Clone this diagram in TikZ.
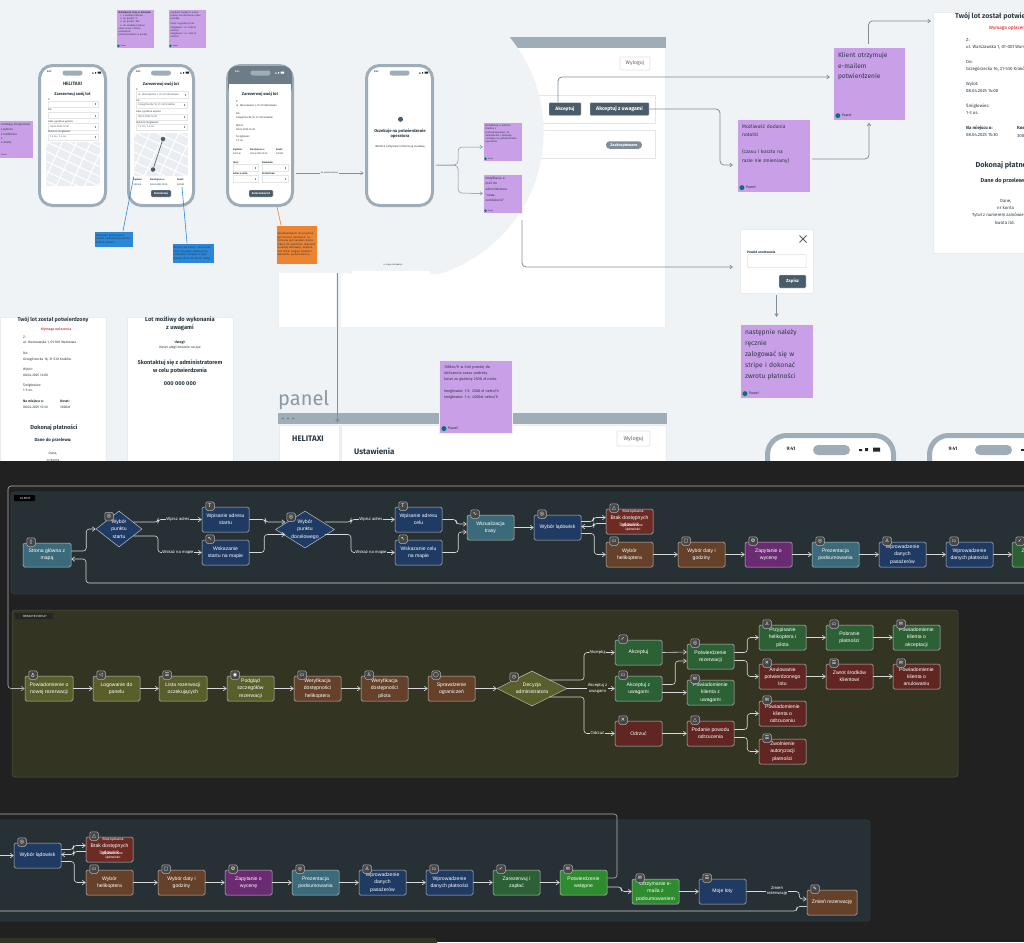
\documentclass[tikz,border=0pt]{standalone}
\usepackage{fontspec}
\setmainfont{Fira Sans}
\newfontfamily\flowf{Liberation Sans}
\newfontfamily\symf{DejaVu Sans}
\usetikzlibrary{arrows.meta,shapes.geometric,calc}
\definecolor{topbg}{HTML}{F0F3F6}
\definecolor{mapbg}{HTML}{EAEDF2}
\definecolor{gline}{HTML}{7E8E9B}
\definecolor{pgray}{HTML}{9FADB9}
\definecolor{btn}{HTML}{4A5B69}
\definecolor{stick}{HTML}{C99FE7}
\definecolor{nblue}{HTML}{2C87D9}
\definecolor{norange}{HTML}{ED8431}
\definecolor{ink}{HTML}{2B3A45}
\definecolor{darkbg}{HTML}{212121}
\definecolor{lanea}{HTML}{273135}
\definecolor{laneb}{HTML}{333522}
\definecolor{cteal}{HTML}{3B6A7A}
\definecolor{cnavy}{HTML}{1F3A63}
\definecolor{cbrown}{HTML}{65412A}
\definecolor{cred}{HTML}{6E2B24}
\definecolor{cred2}{HTML}{612622}
\definecolor{cpurple}{HTML}{6A2B72}
\definecolor{cgreen}{HTML}{2C6135}
\definecolor{cbright}{HTML}{2F8B2F}
\definecolor{colive}{HTML}{595E2B}
\newcounter{tn}
\newcommand\sz[1]{\pgfmathsetmacro\lsk{#1*1.3}\fontsize{#1}{\lsk}\selectfont}
\def\sr{1.55}
\newcommand\szs[1]{\pgfmathsetmacro\lsk{#1*\sr}\fontsize{#1}{\lsk}\selectfont\hyphenpenalty=10000 }
\newcommand\flowsz{\fontsize{5.1}{7.2}\selectfont}
% text helpers: x y size options text
\newcommand\Tl[5]{\stepcounter{tn}\node[anchor=west,inner sep=0,align=left,text=ink,font=\sz{#3},#4] (t\thetn) at ({#1},{#2}) {#5};}
\newcommand\Tc[5]{\stepcounter{tn}\node[anchor=center,inner sep=0,align=center,text=ink,font=\sz{#3},#4] (t\thetn) at ({#1},{#2}) {#5};}
\tikzset{
  phoneshape/.style={draw=pgray,line width=3pt,fill=white,rounded corners=13pt,inner sep=0},
  glink/.style={draw=gline,line width=.8pt,rounded corners=4pt,-{Straight Barb[length=2.5pt,width=3.5pt]}},
  edge/.style={draw=black!15,line width=.6pt,rounded corners=3pt,-{Straight Barb[length=3pt,width=4.5pt]}},
  plain/.style={draw=black!30,line width=.6pt,rounded corners=3pt},
  flowbox/.style={draw=black!25,line width=.5pt,rounded corners=1.5pt,inner sep=0,align=center,text=white,font=\flowf\flowsz},
  ic/.style={draw=black!30,fill=black!72,line width=.5pt,rounded corners=1.5pt,minimum size=8.5pt,inner sep=0,text=white,font=\symf\sz{5}},
  elabel/.style={inner sep=.6pt,align=center,text=white,font=\flowf\sz{4.2}},
  dmd/.style={diamond,draw=black!25,line width=.5pt,inner sep=0},
  flat/.style={draw=black!8,line width=.6pt,fill=white,inner sep=0},
  darkbtn/.style={fill=btn,draw=black!8,line width=.4pt,inner sep=0,text=white,rounded corners=.8pt,font=\bfseries\sz{3.8}},
}
\newcommand\Bx[6]{\node[#6,minimum width={(#4-#2)*1pt},minimum height={(#5-#3)*1pt}] (#1) at ({(#2+#4)/2},{(#3+#5)/2}) {};}
\newcommand\Phone[3]{\node[phoneshape,minimum width={(#3-#2-3)*1pt},minimum height=140pt] (#1) at ({(#2+#3)/2},135.5) {};
  \Tl{#2+9}{72}{2.4}{font=\bfseries\sz{2.4}}{9:41}
  \fill[pgray,rounded corners=2.5pt] ({(#2+#3)/2-10},70.5) rectangle ({(#2+#3)/2+10},75.5);
  \fill[black!85] (#3-15,72.5) rectangle (#3-13.5,73.5) (#3-12,72) rectangle (#3-11,73.5) (#3-9.5,71.6) rectangle (#3-6,73.6);}
\newcommand\Field[5]{\fill[white] (#1,#2) rectangle (#3,#4); \draw[black!10,line width=.4pt] (#1,#2) rectangle (#3,#4);
  \Tl{#1+2}{(#2+#4)/2}{2.6}{text=ink!80}{#5}\fill[black!45] (#3-3.5,{(#2+#4)/2-1}) rectangle (#3-2.7,{(#2+#4)/2+1});}
\newcommand\MapArea[4]{\begin{scope}\clip[rounded corners=2pt] (#1,#2) rectangle (#3,#4);
  \fill[mapbg] (#1,#2) rectangle (#3,#4);
  \pgfmathsetmacro\cx{(#1+#3)/2}\pgfmathsetmacro\cy{(#2+#4)/2}
  \foreach \i in {-36,-27,...,36}{\draw[white,line width=1.1pt] ({\cx-0.42*\i-0.9*60},{\cy+0.9*\i-0.42*60}) -- ({\cx-0.42*\i+0.9*60},{\cy+0.9*\i+0.42*60});}
  \foreach \i in {-45,-32,...,45}{\draw[white,line width=1.1pt] ({\cx+0.9*\i-0.42*60},{\cy+0.42*\i+0.9*60}) -- ({\cx+0.9*\i+0.42*60},{\cy+0.42*\i-0.9*60});}
  \end{scope}}
% sticky: name x1 y1 x2 y2 size text
\newcommand\Sticky[7]{\node[fill=stick,draw=black!6,line width=.4pt,inner sep=0,minimum width={(#4-#2)*1pt},minimum height={(#5-#3)*1pt}] (#1) at ({(#2+#4)/2},{(#3+#5)/2}) {};
  \pgfmathsetmacro\pad{(#4-#2)*0.07}\pgfmathsetmacro\tw{(#4-#2)*0.88}\pgfmathsetmacro\fs{(#4-#2)*0.05}\pgfmathsetmacro\rr{(#4-#2)*0.034}
  \node[anchor=north west,inner sep=0,text width=\tw pt,align=left,text=ink,font=\szs{#6}] (#1t) at ($(#1.north west)+(\pad,\pad)$) {#7};
  \fill[black!10!teal] ($(#1.south west)+(\pad,-\pad*0.9)$) circle (\rr);
  \node[anchor=west,inner sep=0,text=ink,font=\sz{\fs}] (#1a) at ($(#1.south west)+(\pad*1.8,-\pad*0.9)$) {Paweł};}
\newcommand\Note[7]{\pgfmathsetmacro\tw{#4-#2-3}\node[fill=#6,draw=black!6,line width=.4pt,inner sep=1.5pt,minimum width={(#4-#2)*1pt},minimum height={(#5-#3)*1pt},text width=\tw pt,align=left,text=ink,font=\sz{2.7}] (#1) at ({(#2+#4)/2},{(#3+#5)/2}) {#7};}
% flow box: name x1 y1 x2 y2 colour text glyph
\newcommand\Fb[8]{\node[flowbox,fill=#6,minimum width={(#4-#2)*1pt},minimum height={(#5-#3)*1pt}] (#1) at ({(#2+#4)/2},{(#3+#5)/2}) {#7};
  \node[ic] (#1i) at ({#2+8},{#3-1}) {#8};}
\newcommand\Straight[2]{\draw[edge] (#1.east) -- (#2.west);}
\begin{document}
\begin{tikzpicture}[x=1pt,y=-1pt]
\useasboundingbox (0,0) rectangle (1024,942);
\clip (0,0) rectangle (1024,942);
\fill[topbg] (0,0) rectangle (1024,942);

%% ---------- upper canvas ----------
% operator panel behind the bubble
\node[fill=white,draw=black!6,line width=.4pt,inner sep=0,minimum width=387pt,minimum height=290pt] (panelA) at (471.5,182) {};
\fill[pgray] (278,37) rectangle (665.5,48);
\node[flat,draw=black!12,rounded corners=.8pt,minimum width=30pt,minimum height=13pt,text=black!60,font=\sz{5.2}] (wyl1) at (635,63.5) {Wyloguj};
\Bx{rowa}{290}{95}{655}{123}{draw=black!10,line width=.5pt,fill=white,inner sep=0}
\Bx{rowb}{290}{130}{655}{158}{draw=black!10,line width=.5pt,fill=white,inner sep=0}
\node[darkbtn,minimum width=32pt,minimum height=13pt,font=\bfseries\sz{4.8}] (akc) at (565,109) {Akceptuj};
\node[darkbtn,minimum width=59pt,minimum height=13pt,font=\bfseries\sz{5.2}] (akcu) at (619.5,109) {Akceptuj z uwagami};
\node[fill=gline,rounded corners=3.5pt,inner sep=0,minimum width=36pt,minimum height=7.5pt,text=white,font=\bfseries\sz{3.8}] (zaak) at (624,145) {Zaakceptowane};
% bubble in canvas colour
\begin{scope}
\clip (200,0) rectangle (600,273);
\fill[topbg] (395,132) circle (148.7);
\fill[topbg] (270,30) rectangle (395,273);
\end{scope}
\fill[topbg] (336,273) rectangle (340.6,327.5);
\fill[white] (352,271) rectangle (430,273.5);
\Tc{393}{265}{2.2}{}{6. moje rezerwacje}

% sticky notes
\def\sr{1.3}
\Sticky{s1}{116}{9}{154}{48}{2.4}{\textbf{Nakładanie trasy w kierunku:}\\\ \ 1. z siedziby helitaxi\\\ \ 2. do punktu 'Z'\\\ \ 3. do punktu 'DO'\\\ \ 4. do siedziby helitaxi\\suma czasu i kosztu podzielona\\podział przelotu w punkty}
\Sticky{s2}{168}{9}{206}{48}{2.4}{prędkość 160km/h w linii prostej do obliczenia czasu podróży.\\[2pt]Koszt za godzinę lotu:\\śmigłowiec 1-3: 2500 zł netto/h\\śmigłowiec 1-4: 4500 zł netto/h}
\node[fill=stick,draw=black!6,line width=.4pt,inner sep=0,minimum width=34pt,minimum height=38pt] (s0) at (16,139) {};
\Tl{1}{125}{2.9}{}{rzedzając kilogramowi}
\Tl{1}{130}{2.9}{}{z wyboru}
\Tl{1}{134}{2.9}{}{2 rozdzielna}
\Tl{1}{139}{2.9}{}{s}
\Tl{1}{143}{2.9}{}{4 osoby}
\Tl{1}{155}{2}{}{Paweł}

% phone 1
\Phone{p1}{38}{107}
\Tc{72.5}{84}{4.8}{font=\bfseries\sz{4.8}}{HELITAXI}
\Tc{72.5}{94}{4.1}{font=\bfseries\sz{4.1}}{Zarezerwuj swój lot}
\Tl{48}{99.5}{2.5}{}{Z:}
\Field{48}{101}{98}{107}{}
\Tl{48}{110}{2.5}{}{Do:}
\Field{48}{112.5}{98}{118.5}{}
\Tl{48}{121.5}{2.5}{}{Data i godzina wylotu:}
\Field{48}{123.5}{98}{130}{08.04.2025 14:00}
\Tl{48}{132}{2.5}{}{Wybierz śmigłowiec:}
\Field{48}{134}{98}{140}{1-3 os., 1-4 os.}
\MapArea{46}{142}{100}{186}

% phone 2
\Phone{p2}{127}{195}
\Tc{161}{84}{4.1}{font=\bfseries\sz{4.1}}{Zarezerwuj swój lot}
\Tl{136}{89.5}{2.5}{}{Z:}
\Field{136}{91}{188}{98}{ul. Warszawska 1, 01-001 Warszawa}
\Tl{136}{100.5}{2.5}{}{Do:}
\Field{136}{102}{187}{108}{Grzegórzecka 16, 31-530 Kraków}
\Tl{136}{112}{2.5}{}{Data i godzina wylotu:}
\Field{136}{114}{187}{120}{08.04.2025 14:00}
\Tl{136}{122.5}{2.5}{}{Wybierz śmigłowiec:}
\Field{136}{124}{187}{130}{1-3 os., 1-4 os.}
\MapArea{134}{133}{188}{176}
\node[circle,fill=btn,inner sep=0,minimum size=4.5pt] (pinA) at (163,139) {};
\node[circle,fill=btn,inner sep=0,minimum size=4.5pt] (pinB) at (153,169.5) {};
\draw[btn,line width=.6pt] (pinA) -- (pinB);
\Tl{133}{180}{2.4}{font=\bfseries\sz{2.4}}{Dystans}
\Tl{133.5}{184.5}{2.4}{}{200 km}
\Tl{150}{180}{2.4}{font=\bfseries\sz{2.4}}{Na miejscu o:}
\Tl{150}{184.5}{2.4}{}{08.04.2025 15:30}
\Tl{177}{180}{2.4}{font=\bfseries\sz{2.4}}{Koszt:}
\Tl{177}{184.5}{2.4}{}{3000zł}
\node[darkbtn,minimum width=20pt,minimum height=7pt,font=\bfseries\sz{2.8}] (btn2) at (161,193.5) {Zarezerwuj};

% phone 3
\Phone{p3}{226}{294}
\fill[white!20!btn,rounded corners=9pt] (228,66) rectangle (292,96);
\fill[white] (229,84) rectangle (291,100);
\Tl{235}{72}{2.4}{font=\bfseries\sz{2.4},text=white}{9:41}
\fill[pgray,rounded corners=2.5pt] (250.5,70.5) rectangle (270.5,75.5);
\fill[white] (275,72.5) rectangle (276.5,73.5) (278,72) rectangle (279,73.5) (280.5,71.6) rectangle (284,73.6);
\Tc{260}{94}{4.1}{font=\bfseries\sz{4.1}}{Zarezerwuj swój lot}
\Tl{236}{102}{2.6}{}{Z:}
\Tl{236}{106}{2.6}{}{ul. Warszawska 1, 01-001 Warszawa}
\Tl{236}{114}{2.6}{}{Do:}
\Tl{236}{118}{2.6}{}{Grzegórzecka 16, 31-530 Kraków}
\Tl{236}{126}{2.6}{}{Wylot:}
\Tl{236}{129.5}{2.6}{}{08.04.2025 14:00}
\Tl{236}{137}{2.6}{}{Śmigłowiec:}
\Tl{236}{141}{2.6}{}{1-3 os.}
\Tl{233}{150}{2.4}{font=\bfseries\sz{2.4}}{Dystans:}
\Tl{233}{154}{2.4}{}{200 km}
\Tl{250}{150}{2.4}{font=\bfseries\sz{2.4}}{Na miejscu o:}
\Tl{250}{154}{2.4}{}{08.04.2025 15:30}
\Tl{276}{150}{2.4}{font=\bfseries\sz{2.4}}{Koszt:}
\Tl{276}{154}{2.4}{}{3000zł}
\Tl{233}{162.5}{2.4}{font=\bfseries\sz{2.4}}{Imię:}
\Field{233}{164}{258}{171}{}
\Tl{262}{162.5}{2.4}{font=\bfseries\sz{2.4}}{Nazwisko:}
\Field{262}{164}{288}{171}{}
\Tl{233}{174}{2.4}{font=\bfseries\sz{2.4}}{Adres e-mail:}
\Field{233}{175.5}{258}{182}{}
\Tl{262}{174}{2.4}{font=\bfseries\sz{2.4}}{Nr telefonu:}
\Field{262}{175.5}{288}{182}{}
\node[darkbtn,minimum width=24pt,minimum height=7pt,font=\bfseries\sz{2.8}] (btn3) at (261,193.5) {Zarezerwuj lot};

% phone 4
\Phone{p4}{365}{434}
\node[circle,fill=btn,inner sep=0,minimum size=5pt] (clock) at (400.5,119.3) {};
\Tc{400}{134}{4.2}{font=\bfseries\sz{4.2}}{Oczekuje na potwierdzenie\\operatora}
\Tc{400}{146.5}{2.8}{}{Wkrótce otrzymasz informację mailową}

% stickies of the bubble
\def\sr{1.25}
\Sticky{s3}{483}{122}{522}{161}{2.55}{Notyfikacja e-mail do\\klienta, z\\podsumowaniem, że\\zamówienie i obiecuje\\oczekuje na potwierdzenie\\operatora}
\def\sr{1.75}
\Sticky{s4}{483}{174}{522}{213}{3.2}{Notyfikacja e-\\mail do\\administratora\\"nowe\\zamówienie"}

% phone links
\coordinate (p3out) at (296,173);
\coordinate (p4in) at (363.5,173);
\draw[glink,line width=.5pt] (p3out) -- (p4in);
\node[fill=topbg,inner sep=.4pt,text=ink,font=\sz{2.2}] (plbl) at (329.5,173) {do potwierdzenia};
\coordinate (p4out) at (436,165);
\coordinate (brA) at (458,147);
\coordinate (brB) at (458,193);
\draw[glink,line width=.5pt] (p4out) -| (brA) -- ([yshift=-5.5pt]s3.west);
\draw[glink,line width=.5pt] (p4out) -| (brB) -- (s4.west);

% colour notes
\Note{n1}{94}{231}{133}{247}{nblue}{Możliwość przesunięcia\\pinezki i aktualizacji adresu\\(start \& koniec)}
\Note{n2}{172}{243}{214}{263}{nblue}{Dotyczy się kwoty i czasu lotu. Czas lotu gdzie wkalkuje się helikopter i dopiero z tego punktu do A i B i do B i dalej}
\Note{n3}{276}{225}{317}{264}{norange}{Zarezerwowanie nie powinno być końcem rezerwacji: informacja jest kanałem komunikacji do operatora. Najpierw w swojej rezerwacji, dopiero nad lotem reaguje lokalnie i wskazanie podsumowania.}
\coordinate (a1) at (133.7,176.7);
\coordinate (a2) at (182,187);
\coordinate (a3) at (277,207);
\draw[nblue,line width=.6pt] (a1) -- (123,231);
\draw[nblue,line width=.6pt] (a2) -- (187,243);
\draw[norange,line width=.6pt] (a3) -- (281,225);

% right-hand stickies and dialogs
\def\sr{1.65}
\Sticky{klient}{833}{47}{905}{120}{6.6}{Klient otrzymuje\\e-mailem\\potwierdzenie}
\def\sr{1.7}
\Sticky{mozl}{737}{119}{810}{192}{5}{Możliwość dodania\\notatki\\[8.5pt](czasu i kosztu na\\razie nie zmieniamy)}
\def\sr{1.65}
\Sticky{nast}{740}{324}{813}{398}{6.7}{następnie należy\\ręcznie\\zalogować się w\\stripe i dokonać\\zwrotu płatności}
\Bx{dlg}{740}{229}{813}{293}{flat}
\draw[black!65,line width=.8pt] (799.5,235.5) -- (806.5,242.5) (799.5,242.5) -- (806.5,235.5);
\Tl{747}{252.5}{3.3}{font=\bfseries\sz{3.3}}{Powód anulowania}
\Bx{dlgin}{747.5}{254.5}{806}{267.5}{draw=black!12,line width=.5pt,fill=white,inner sep=0,rounded corners=.8pt}
\node[darkbtn,minimum width=27pt,minimum height=13pt,font=\bfseries\sz{4.4}] (zapisz) at (792.5,281.5) {Zapisz};

\coordinate (kin) at (830,77);
\coordinate (mzin) at (733,165);
\coordinate (mzc) at (720,109);
\coordinate (dgin) at (733,267);
\draw[glink] ([xshift=-7pt]akc.north) |- (kin);
\draw[glink] (akcu.east) -- (mzc) |- (mzin);
\draw[glink] ([xshift=2pt,yshift=-3.5pt]mozl.east) -| ([yshift=-2.5pt]klient.south);
\coordinate (kup) at (868.5,44);
\coordinate (kdoc) at (931,21);
\draw[glink] (kup) |- (kdoc);
\coordinate (l1) at (522,220);
\draw[glink] (l1) |- (dgin);
\draw[glink] ([yshift=-2pt]dlg.south) -- ([yshift=7pt]nast.north);

% right document
\Bx{docC}{933.5}{12}{1030}{253}{flat}
\Tl{955}{16}{7}{font=\bfseries\sz{7}}{Twój lot został potwierdzony}
\Tl{989}{28}{4.7}{text=red!85!black}{Wymaga opłacenia}
\Tl{966}{40}{4.4}{}{Z:}
\Tl{966}{47.5}{4.4}{}{ul. Warszawska 1, 01-001 Warszawa}
\Tl{966}{62}{4.4}{}{Do:}
\Tl{966}{69.5}{4.4}{}{Grzegórzecka 16, 31-530 Kraków}
\Tl{966}{84}{4.4}{}{Wylot:}
\Tl{966}{91.5}{4.4}{}{08.04.2025 14:00}
\Tl{966}{106}{4.4}{}{Śmigłowiec:}
\Tl{966}{113.5}{4.4}{}{1-3 os.}
\Tl{966}{128}{4.4}{font=\bfseries\sz{4.4}}{Na miejscu o:}
\Tl{1017}{128}{4.4}{font=\bfseries\sz{4.4}}{Koszt:}
\Tl{966}{135.5}{4.4}{}{08.04.2025 15:30}
\Tl{1017}{135.5}{4.4}{}{3000zł}
\Tl{975.5}{165}{7.3}{font=\bfseries\sz{7.3}}{Dokonaj płatności}
\Tl{980.5}{180.5}{5.6}{font=\bfseries\sz{5.6}}{Dane do przelewu:}
\Tl{1000}{201}{4.4}{}{Dane,}
\Tl{997}{208}{4.4}{}{nr konta}
\Tl{972}{215}{4.4}{}{Tytuł z numerem zamówienia,}
\Tl{995}{222.5}{4.4}{}{kwota itd.}

% lower-left documents
\Bx{docA}{0}{317}{106}{470}{flat}
\Bx{docB}{127}{317}{233}{470}{flat}
\Tc{53}{320}{5.4}{font=\bfseries\sz{5.4}}{Twój lot został potwierdzony}
\Tc{56}{329}{3.6}{text=red!85!black}{Wymaga opłacenia}
\Tl{23}{337}{3.4}{}{Z:}
\Tl{23}{343}{3.4}{}{ul. Warszawska 1, 01-001 Warszawa}
\Tl{23}{353.5}{3.4}{}{Do:}
\Tl{23}{359}{3.4}{}{Grzegórzecka 16, 31-530 Kraków}
\Tl{23}{369.5}{3.4}{}{Wylot:}
\Tl{23}{375}{3.4}{}{08.04.2025 14:00}
\Tl{23}{385}{3.4}{}{Śmigłowiec:}
\Tl{23}{390.5}{3.4}{}{1-3 os.}
\Tl{23}{401}{3.4}{font=\bfseries\sz{3.4}}{Na miejscu o:}
\Tl{60}{401}{3.4}{font=\bfseries\sz{3.4}}{Koszt:}
\Tl{23}{407}{3.4}{}{08.04.2025 15:30}
\Tl{60}{407}{3.4}{}{3000zł}
\Tc{54}{428}{5.7}{font=\bfseries\sz{5.7}}{Dokonaj płatności}
\Tc{53}{440}{4.4}{font=\bfseries\sz{4.4}}{Dane do przelewu:}
\Tc{53}{454}{3.4}{}{Dane,}
\Tc{53}{460}{3.4}{}{nr konta}
\Tc{180}{320}{5.8}{font=\bfseries\sz{5.8}}{Lot możliwy do wykonania}
\Tc{180}{328}{5.8}{font=\bfseries\sz{5.8}}{z uwagami}
\Tc{180}{342}{3.6}{font=\bfseries\sz{3.6}}{Uwagi:}
\Tc{180}{347.5}{3.5}{}{Koszt uległ zmianie na xyz}
\Tc{180}{363}{5.6}{font=\bfseries\sz{5.6}}{Skontaktuj się z administratorem}
\Tc{180}{371}{5.6}{font=\bfseries\sz{5.6}}{w celu potwierdzenia}
\Tc{180}{384}{5.6}{font=\bfseries\sz{5.6}}{000 000 000}

% panel 2
\Tl{278}{400.5}{20}{text=gline!90}{panel}
\fill[pgray] (278,413) rectangle (666.5,424);
\fill[black!25!pgray] (283,418.5) circle (1.2) (288,418.5) circle (1.2) (293,418.5) circle (1.2);
\Bx{side}{279}{425.5}{339.5}{470}{flat}
\Bx{mainp}{341}{425.5}{666}{470}{flat}
\Tc{308}{438.5}{8}{font=\bfseries\sz{8}}{HELITAXI}
\Tl{354}{451}{8}{font=\bfseries\sz{8}}{Ustawienia}
\node[flat,draw=black!12,rounded corners=.8pt,minimum width=33pt,minimum height=15pt,text=black!60,font=\sz{5.6}] (wyl2) at (633.5,438.5) {Wyloguj};
\def\sr{1.6}
\Sticky{tal}{439}{360}{512}{433}{3.8}{160km/h w linii prostej do\\obliczenia czasu podróży\\koszt za godzinę 2500 zł netto\\[6pt]śmigłowiec 1-3: 2500 zł netto/h\\śmigłowiec 1-4: 4500zł netto/h}
\coordinate (vA) at (337.5,273);
\coordinate (vB) at (337.5,422.5);
\draw[gline,line width=1pt,-{Straight Barb[length=2.5pt,width=3.5pt]}] (vA) -- (vB);

% phones at the bottom right
\node[phoneshape,line width=5pt,rounded corners=19pt,minimum width=126pt,minimum height=300pt] (p5) at (830.5,585.5) {};
\node[phoneshape,line width=5pt,rounded corners=19pt,minimum width=126pt,minimum height=300pt] (p6) at (992.5,585.5) {};
\Tc{791}{448.5}{5}{font=\bfseries\sz{5}}{9:41}
\fill[pgray,rounded corners=5pt] (813,445) rectangle (850,455);
\fill[black!85] (859,449) rectangle (862,451) (865,448) rectangle (868,451) (873,447.5) rectangle (880,451.5);
\Tc{953}{448.5}{5}{font=\bfseries\sz{5}}{9:41}
\fill[pgray,rounded corners=5pt] (975,445) rectangle (1012,455);
\fill[black!85] (1021,449) rectangle (1024,451);

%% ---------- dark flow diagram ----------
\fill[darkbg] (0,461) rectangle (1024,942);
\node[fill=lanea,draw=lanea!80!cteal,line width=.6pt,rounded corners=3pt,inner sep=0,minimum width=1040pt,minimum height=102pt] (laneA) at (531,543) {};
\node[fill=laneb,draw=laneb!85!white,line width=.5pt,rounded corners=3pt,inner sep=0,minimum width=946pt,minimum height=167pt] (laneB) at (485,693.5) {};
\node[fill=lanea,draw=lanea!80!cteal,line width=.6pt,rounded corners=3pt,inner sep=0,minimum width=876pt,minimum height=101pt] (laneC) at (432,870.5) {};
\node[fill=laneb,rounded corners=3pt,inner sep=0,minimum width=442pt,minimum height=20pt] (laneD) at (216,948) {};
\node[fill=black,rounded corners=.8pt,inner sep=1pt,minimum width=21pt,minimum height=6pt,text=white,font=\flowf\sz{3}] (chipA) at (24.5,498) {\ \ KLIENT};
\node[fill=black!85,rounded corners=.8pt,inner sep=1pt,minimum width=38pt,minimum height=6pt,text=white,font=\flowf\sz{3}] (chipB) at (34,616) {\ \ REMOTE PAPUP};

% lane A nodes
\Fb{strona}{23}{543}{71}{567}{cteal}{Strona główna z\\mapą}{▯}
\node[dmd,fill=cnavy,minimum width=46pt,minimum height=36pt] (d1) at (119,529) {};
\node[ic] (d1i) at (109,516.5) {◎};
\Tc{119}{529}{5.1}{font=\flowf\flowsz,text=white}{Wybór\\punktu\\startu}
\Fb{wsa}{202}{507}{249}{532}{cnavy}{Wpisanie adresu\\startu}{T}
\Fb{wma}{202}{540}{249}{565}{cnavy}{Wskazanie\\startu na mapie}{↖}
\node[dmd,fill=cnavy,minimum width=59pt,minimum height=37pt] (d2) at (305,529.5) {};
\node[ic] (d2i) at (291,517) {◎};
\Tc{305}{529.5}{5.1}{font=\flowf\flowsz,text=white}{Wybór\\punktu\\docelowego}
\Fb{wsb}{395}{507}{442}{532}{cnavy}{Wpisanie adresu\\celu}{T}
\Fb{wmb}{395}{540}{442}{565}{cnavy}{Wskazanie celu\\na mapie}{↖}
\Fb{wiz}{467}{515}{514}{540}{cteal}{Wizualizacja\\trasy}{∿}
\Fb{wyb}{534}{515}{581}{540}{cnavy}{Wybór lądowisk}{◎}
\Fb{brak}{606}{509}{653}{534}{cred}{Brak dostępnych\\lądowisk}{△}
\Tc{633}{512}{3.4}{font=\flowf\sz{3.4},text=white}{Brak lądowisk}
\Tc{633}{525.5}{3.4}{font=\flowf\sz{3.4},text=white}{Wybierz inne}
\Tc{633}{530}{3.4}{font=\flowf\sz{3.4},text=white}{lądowisko}
\Fb{hel}{606}{542}{653}{567}{cbrown}{Wybór\\helikoptera}{▭}
\Fb{dat}{678}{542}{725}{567}{cbrown}{Wybór daty i\\godziny}{▢}
\Fb{zap}{745}{542}{792}{567}{cpurple}{Zapytanie o\\wycenę}{⚙}
\Fb{pre}{812}{542}{859}{567}{cteal}{Prezentacja\\podsumowania}{◎}
\Fb{pas}{879}{542}{926}{567}{cnavy}{Wprowadzenie\\danych\\pasażerów}{♙}
\Fb{pla}{946}{542}{993}{567}{cnavy}{Wprowadzenie\\danych płatności}{▭}
\Fb{zar}{1012}{542}{1059}{567}{cgreen}{Zarezerwuj i\\zapłać}{✓}

% lane A edges
\coordinate (retR) at (1035,583);
\coordinate (retB) at (86,583);
\draw[edge] ([yshift=4pt]strona.east) -- ++(15,0) |- (d1.west);
\draw[edge] (retR) -- (retB) |- ([yshift=-4pt]strona.east);
\draw[edge] ([xshift=-9pt,yshift=7pt]d1.east) -- (158,522) |- (wsa.west);
\draw[edge] ([xshift=-9pt,yshift=-7pt]d1.east) -- (158,536) |- (wma.west);
\draw[edge] (wsa.east) -- ++(16,0) |- ([xshift=10pt,yshift=7.5pt]d2.west);
\draw[edge] (wma.east) -- ++(15,0) |- ([xshift=10pt,yshift=-5pt]d2.west);
\draw[edge] ([xshift=-10pt,yshift=7.5pt]d2.east) -- (351,522) |- (wsb.west);
\draw[edge] ([xshift=-10pt,yshift=-5pt]d2.east) -- (351,534.5) |- (wmb.west);
\draw[edge] (wsb.east) -- ++(14,0) |- ([yshift=3.5pt]wiz.west);
\draw[edge] (wmb.east) -- ++(16,0) |- ([yshift=-4.5pt]wiz.west);
\Straight{wiz}{wyb}
\draw[edge] ([yshift=6pt]wyb.east) -- ++(12,0) |- ([yshift=4pt]brak.west);
\draw[edge] ([yshift=-2pt]brak.west) -- ++(-12,0) |- ([yshift=1pt]wyb.east);
\draw[edge] ([yshift=-6pt]wyb.east) -- ++(13,0) |- (hel.west);
\Straight{hel}{dat}\Straight{dat}{zap}\Straight{zap}{pre}\Straight{pre}{pas}\Straight{pas}{pla}\Straight{pla}{zar}
\node[elabel,fill=lanea] (ea) at (178,519) {Wpisz adres};
\node[elabel,fill=lanea] (eb) at (178,552) {Wskaż na mapie};
\node[elabel,fill=lanea] (ec) at (371,519) {Wpisz adres};
\node[elabel,fill=lanea] (ed) at (371,552) {Wskaż na mapie};

% lane B nodes
\Fb{pow}{25}{676}{73}{701}{colive}{Powiadomienie o\\nowej rezerwacji}{♁}
\Fb{log}{93}{676}{140}{701}{colive}{Logowanie do\\panelu}{◁}
\Fb{lis}{159}{676}{207}{701}{colive}{Lista rezerwacji\\oczekujących}{☰}
\Fb{pod}{227}{676}{274}{701}{colive}{Podgląd\\szczegółów\\rezerwacji}{◉}
\Fb{wer}{294}{676}{341}{701}{cbrown}{Weryfikacja\\dostępności\\helikoptera}{▭}
\Fb{wep}{361}{676}{408}{701}{cbrown}{Weryfikacja\\dostępności\\pilota}{♙}
\Fb{spr}{428}{676}{475}{701}{cbrown}{Sprawdzenie\\ograniczeń}{◯}
\node[dmd,fill=colive,minimum width=70pt,minimum height=35pt] (dec) at (532,688.5) {};
\node[ic] (deci) at (514,677) {◷};
\Tc{532}{688.5}{5.1}{font=\flowf\flowsz,text=white}{Decyzja\\administratora}
\Fb{oka}{615}{640}{662}{665}{cgreen}{Akceptuj}{✓}
\Fb{oku}{615}{676}{662}{701}{cgreen}{Akceptuj z\\uwagami}{▭}
\Fb{odr}{615}{721}{662}{746}{cred2}{Odrzuć}{✕}
\Fb{pot}{687}{644}{734}{669}{cgreen}{Potwierdzenie\\rezerwacji}{◎}
\Fb{puw}{687}{680}{734}{705}{cgreen}{Powiadomienie\\klienta z\\uwagami}{✉}
\Fb{ppo}{687}{721}{734}{746}{cred2}{Podanie powodu\\odrzucenia}{△}
\Fb{prz}{759}{625}{806}{650}{cgreen}{Przypisanie\\helikoptera i\\pilota}{♙}
\Fb{anu}{759}{664}{806}{689}{cred2}{Anulowanie\\potwierdzonego\\lotu}{✕}
\Fb{pod2}{759}{701}{806}{726}{cred2}{Powiadomienie\\klienta o\\odrzuceniu}{✉}
\Fb{zwo}{759}{739}{806}{764}{cred2}{Zwolnienie\\autoryzacji\\płatności}{☰}
\Fb{pob}{826}{625}{873}{650}{cgreen}{Pobranie\\płatności}{▭}
\Fb{zwr}{826}{664}{873}{689}{cred2}{Zwrot środków\\klientowi}{☰}
\Fb{pak}{893}{625}{940}{650}{cgreen}{Powiadomienie\\klienta o\\akceptacji}{✉}
\Fb{pan}{893}{664}{940}{689}{cred2}{Powiadomienie\\klienta o\\anulowaniu}{✉}

% lane B edges
\coordinate (topR) at (1035,486);
\coordinate (topL) at (8,486);
\draw[edge,draw=black!30] (topR) -- (topL) |- (pow.west);
\Straight{pow}{log}\Straight{log}{lis}\Straight{lis}{pod}\Straight{pod}{wer}\Straight{wer}{wep}\Straight{wep}{spr}\Straight{spr}{dec}
\draw[edge] ([xshift=-18pt,yshift=8.5pt]dec.east) -- (584,680) |- (oka.west);
\draw[edge] (dec.east) -- (oku.west);
\draw[edge] ([xshift=-18pt,yshift=-8.5pt]dec.east) -- (584,697) |- (odr.west);
\draw[edge] (oka.east) -- ([yshift=4.5pt]pot.west);
\draw[edge] ([yshift=4pt]oku.east) -- ++(13,0) |- ([yshift=-4.5pt]pot.west);
\draw[edge] ([yshift=-4pt]oku.east) -- (puw.west);
\Straight{odr}{ppo}
\draw[edge] ([yshift=4pt]pot.east) -- ++(13,0) |- (prz.west);
\draw[edge] ([yshift=-4pt]pot.east) -- ++(13,0) |- (anu.west);
\draw[edge] ([yshift=4pt]ppo.east) -- ++(13,0) |- (pod2.west);
\draw[edge] ([yshift=-4pt]ppo.east) -- ++(13,0) |- (zwo.west);
\Straight{prz}{pob}\Straight{pob}{pak}\Straight{anu}{zwr}\Straight{zwr}{pan}
\node[elabel,fill=laneb] (ee) at (597.5,652) {Akceptuj};
\node[elabel,fill=laneb] (ef) at (597.5,688.5) {Akceptuj z\\uwagami};
\node[elabel,fill=laneb] (eg) at (597.5,732.5) {Odrzuć};

% lane C nodes
\coordinate (cin) at (-5,855.5);
\Fb{wyc}{14}{843}{61}{868}{cnavy}{Wybór lądowisk}{◎}
\Fb{brc}{86}{837}{133}{862}{cred}{Brak dostępnych\\lądowisk}{△}
\Tc{113}{840}{3.4}{font=\flowf\sz{3.4},text=white}{Brak lądowisk}
\Tc{113}{853.5}{3.4}{font=\flowf\sz{3.4},text=white}{Wybierz inne}
\Tc{113}{858}{3.4}{font=\flowf\sz{3.4},text=white}{lądowisko}
\Fb{hec}{86}{870}{133}{895}{cbrown}{Wybór\\helikoptera}{▭}
\Fb{dac}{158}{870}{205}{895}{cbrown}{Wybór daty i\\godziny}{▢}
\Fb{zac}{225}{870}{272}{895}{cpurple}{Zapytanie o\\wycenę}{⚙}
\Fb{prc}{292}{870}{339}{895}{cteal}{Prezentacja\\podsumowania}{◎}
\Fb{pac}{359}{870}{406}{895}{cnavy}{Wprowadzenie\\danych\\pasażerów}{♙}
\Fb{plc}{426}{870}{473}{895}{cnavy}{Wprowadzenie\\danych płatności}{▭}
\Fb{zrc}{493}{870}{540}{895}{cgreen}{Zarezerwuj i\\zapłać}{✓}
\Fb{pwc}{560}{870}{607}{895}{cbright}{Potwierdzenie\\wstępne}{✉}
\Fb{otr}{632}{879}{679}{904}{cbright}{Otrzymanie e-\\maila z\\podsumowaniem}{✉}
\Fb{moj}{699}{879}{746}{904}{cnavy}{Moje loty}{☰}
\Fb{zmi}{807}{890}{857}{915}{cbrown}{Zmień rezerwację}{✎}

% lane C edges
\draw[edge] (cin) -- (wyc.west);
\draw[edge] ([yshift=6pt]wyc.east) -- ++(12,0) |- ([yshift=4pt]brc.west);
\draw[edge] ([yshift=-2pt]brc.west) -- ++(-12,0) |- ([yshift=1pt]wyc.east);
\draw[edge] ([yshift=-6pt]wyc.east) -- ++(13,0) |- (hec.west);
\Straight{hec}{dac}\Straight{dac}{zac}\Straight{zac}{prc}\Straight{prc}{pac}\Straight{pac}{plc}\Straight{plc}{zrc}\Straight{zrc}{pwc}
\coordinate (loopT) at (617,814);
\coordinate (loopL) at (-5,814);
\coordinate (retC) at (-5,911);
\draw[plain] ([yshift=4.5pt]pwc.east) -| (loopT) -- (loopL);
\draw[edge] ([yshift=-4.5pt]pwc.east) -- ++(14,0) |- (otr.west);
\Straight{otr}{moj}
\draw[edge] (moj.east) -- ++(53,0) |- ([yshift=3.5pt]zmi.west);
\node[elabel,fill=lanea] (eh) at (777,891) {Zmień\\rezerwację};
\draw[plain,draw=black!20] ([yshift=-4pt]zmi.west) -- ++(-10,0) |- (retC);
\end{tikzpicture}
\end{document}
